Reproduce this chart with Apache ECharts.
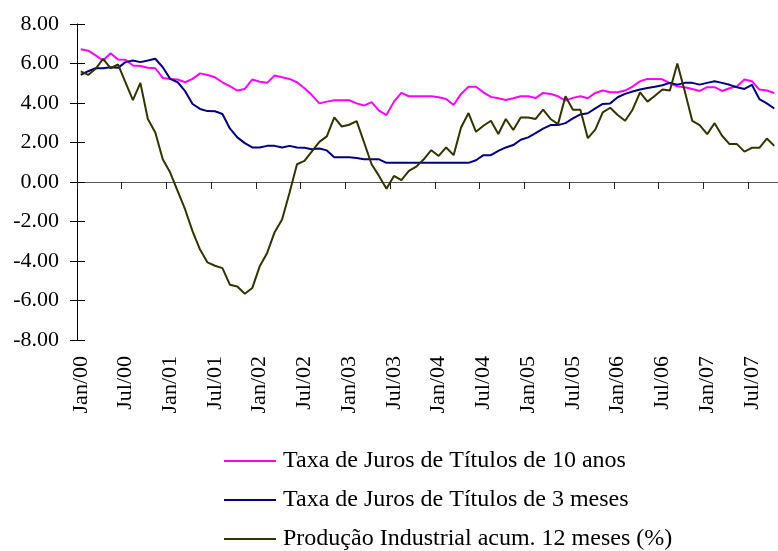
<!DOCTYPE html>
<html>
<head>
<meta charset="utf-8">
<script src="https://cdn.jsdelivr.net/npm/echarts@6/dist/echarts.min.js"></script>
<style>
    html, body { margin: 0; padding: 0; background: #fff; }
    #chart { width: 778px; height: 551px; }
</style>
</head>
<body>
<div id="chart"></div>
<script>
// meses Jan/00 .. Out/07
var monthNames = ["Jan", "Fev", "Mar", "Abr", "Mai", "Jun", "Jul", "Ago", "Set", "Out", "Nov", "Dez"];
var years = ["00", "01", "02", "03", "04", "05", "06", "07"];
var lastMonth = 10; // Out/07

var categories = [];
years.forEach(function (y, yi) {
    var n = (yi == years.length - 1) ? lastMonth : 12;
    for (var m = 0; m < n; m++) {
        categories.push(monthNames[m] + "/" + y);
    }
});

var seriesNames = [
    "Taxa de Juros de Títulos de 10 anos",
    "Taxa de Juros de Títulos de 3 meses",
    "Produção Industrial acum. 12 meses (%)"
];

var juros10anos = [
    6.72, 6.65, 6.41, 6.15, 6.52, 6.20, 6.19, 5.90, 5.87, 5.78, 5.76, 5.27,
    5.22, 5.19, 5.05, 5.22, 5.50, 5.42, 5.30, 5.05, 4.85, 4.63, 4.71, 5.19,
    5.08, 5.02, 5.39, 5.30, 5.22, 5.05, 4.75, 4.40, 3.98, 4.07, 4.14, 4.14,
    4.14, 3.98, 3.87, 4.04, 3.61, 3.39, 4.07, 4.51, 4.34, 4.34, 4.34, 4.34,
    4.29, 4.20, 3.90, 4.46, 4.82, 4.82, 4.54, 4.31, 4.24, 4.15, 4.24, 4.34,
    4.34, 4.25, 4.51, 4.46, 4.34, 4.12, 4.26, 4.34, 4.24, 4.51, 4.63, 4.54,
    4.54, 4.63, 4.83, 5.10, 5.22, 5.22, 5.20, 5.00, 4.85, 4.80, 4.71, 4.61,
    4.80, 4.80, 4.61, 4.75, 4.85, 5.19, 5.10, 4.68, 4.63, 4.51
];

var juros3meses = [
    5.42, 5.61, 5.76, 5.76, 5.81, 5.78, 6.07, 6.15, 6.07, 6.15, 6.24, 5.81,
    5.22, 5.05, 4.60, 3.95, 3.70, 3.59, 3.58, 3.44, 2.71, 2.26, 1.97, 1.75,
    1.75, 1.83, 1.83, 1.75, 1.83, 1.75, 1.73, 1.66, 1.70, 1.60, 1.25, 1.25,
    1.25, 1.22, 1.15, 1.15, 1.15, 0.97, 0.97, 0.97, 0.97, 0.97, 0.97, 0.97,
    0.97, 0.97, 0.97, 0.97, 0.97, 1.10, 1.36, 1.36, 1.58, 1.75, 1.87, 2.14,
    2.26, 2.48, 2.70, 2.88, 2.88, 2.98, 3.22, 3.42, 3.48, 3.73, 3.95, 3.98,
    4.29, 4.46, 4.58, 4.68, 4.76, 4.82, 4.90, 5.02, 4.93, 5.02, 5.02, 4.93,
    5.02, 5.10, 5.02, 4.92, 4.80, 4.71, 4.92, 4.20, 3.98, 3.72
];

var producaoIndustrial = [
    5.60, 5.42, 5.73, 6.24, 5.76, 5.95, 5.05, 4.15, 5.02, 3.19, 2.51, 1.15,
    0.48, -0.46, -1.39, -2.50, -3.42, -4.07, -4.24, -4.36, -5.20, -5.29, -5.66, -5.37,
    -4.27, -3.59, -2.54, -1.90, -0.54, 0.90, 1.07, 1.55, 2.03, 2.31, 3.27, 2.81,
    2.90, 3.08, 2.00, 0.90, 0.31, -0.34, 0.31, 0.10, 0.56, 0.78, 1.15, 1.61,
    1.32, 1.75, 1.36, 2.76, 3.49, 2.54, 2.85, 3.10, 2.43, 3.19, 2.63, 3.27,
    3.27, 3.19, 3.66, 3.19, 2.93, 4.34, 3.66, 3.66, 2.22, 2.65, 3.53, 3.76,
    3.39, 3.10, 3.66, 4.54, 4.07, 4.37, 4.68, 4.63, 6.00, 4.60, 3.10, 2.88,
    2.42, 2.98, 2.34, 1.92, 1.92, 1.54, 1.73, 1.73, 2.20, 1.83
];

var yMin = -8, yMax = 8, yStep = 2;
var colors = ["#FF00FF", "#000080", "#333300"];
var font = "'Liberation Serif', 'Times New Roman', serif";

var chart = echarts.init(document.getElementById("chart"));

var option = {
    animation: false,
    backgroundColor: "#fff",
    color: colors,
    grid: {
        left: 77,
        right: 0,
        top: 24,
        bottom: 211
    },
    legend: {
        orient: "vertical",
        left: 224,
        top: 449,
        height: 160,
        padding: 0,
        itemWidth: 52,
        itemHeight: 22,
        itemGap: 15,
        icon: "path://M0,10 L52,10 L52,12 L0,12 Z",
        textStyle: {
            fontFamily: font,
            fontSize: 24,
            color: "#000",
            lineHeight: 22,
            padding: [0, 0, 0, 2]
        },
        data: seriesNames
    },
    xAxis: [
        {
            // linha do zero, marcas para baixo
            type: "category",
            data: categories,
            boundaryGap: true,
            axisLine: { onZero: true, onZeroAxisIndex: 0, lineStyle: { color: "#555", width: 1 } },
            axisTick: { show: true, interval: 5, length: 7, lineStyle: { color: "#222" } },
            axisLabel: { show: false },
            splitLine: { show: false }
        },
        {
            // marcas para cima
            type: "category",
            data: categories,
            boundaryGap: true,
            axisLine: { show: false, onZero: true, onZeroAxisIndex: 0 },
            axisTick: { show: true, inside: true, interval: 5, length: 7, lineStyle: { color: "#222" } },
            axisLabel: { show: false },
            splitLine: { show: false }
        },
        {
            // rótulos em baixo
            type: "category",
            data: categories,
            position: "bottom",
            boundaryGap: true,
            axisLine: { show: false, onZero: false },
            axisTick: { show: false },
            axisLabel: {
                interval: 5,
                rotate: 90,
                margin: 16,
                fontFamily: font,
                fontSize: 22,
                color: "#000"
            },
            splitLine: { show: false }
        }
    ],
    yAxis: [
        {
            type: "value",
            min: yMin,
            max: yMax,
            interval: yStep,
            axisLine: { show: true, onZero: false, lineStyle: { color: "#000", width: 1 } },
            axisTick: { show: true, length: 7, lineStyle: { color: "#000" } },
            axisLabel: {
                margin: 18,
                fontFamily: font,
                fontSize: 22,
                color: "#000",
                formatter: function (v) { return v.toFixed(2); }
            },
            splitLine: { show: false }
        },
        {
            type: "value",
            position: "left",
            min: yMin,
            max: yMax,
            interval: yStep,
            axisLine: { show: false, onZero: false },
            axisTick: { show: true, inside: true, length: 8, lineStyle: { color: "#000" } },
            axisLabel: { show: false },
            splitLine: { show: false }
        }
    ],
    series: [
        {
            name: seriesNames[0],
            type: "line",
            data: juros10anos,
            symbol: "none",
            lineStyle: { width: 2, color: colors[0] }
        },
        {
            name: seriesNames[1],
            type: "line",
            data: juros3meses,
            symbol: "none",
            lineStyle: { width: 2, color: colors[1] }
        },
        {
            name: seriesNames[2],
            type: "line",
            data: producaoIndustrial,
            symbol: "none",
            lineStyle: { width: 2, color: colors[2] }
        }
    ]
};

chart.setOption(option);
</script>
</body>
</html>
